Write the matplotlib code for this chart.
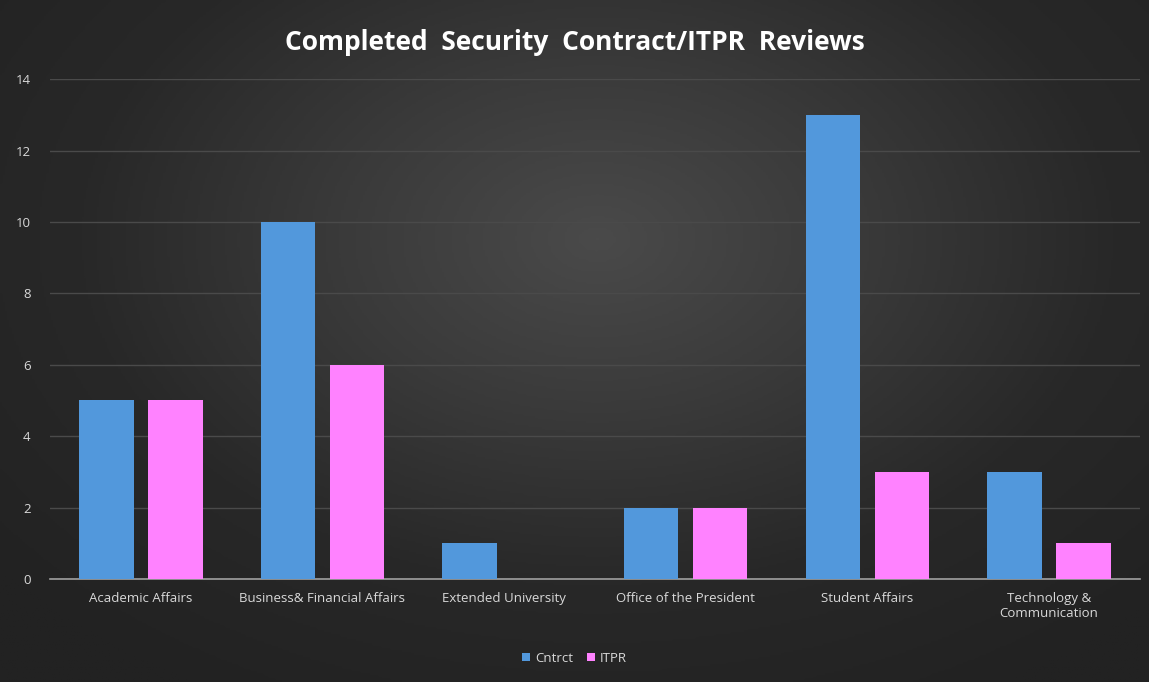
import numpy as np
import matplotlib.pyplot as plt
from matplotlib.colors import LinearSegmentedColormap

categories = ["Academic Affairs", "Business& Financial Affairs", "Extended University",
              "Office of the President", "Student Affairs", "Technology &\nCommunication"]
cntrct = [5, 10, 1, 2, 13, 3]
itpr = [5, 6, 0, 2, 3, 1]

plt.rcParams['font.family'] = ['Open Sans', 'DejaVu Sans']

fig = plt.figure(figsize=(11.49, 6.82), dpi=100)

# dark radial background
bg = fig.add_axes([0, 0, 1, 1])
yy, xx = np.mgrid[0:1:300j, 0:1:500j]
r = np.sqrt(((xx - 0.52) / 0.75) ** 2 + ((yy - 0.35) / 0.85) ** 2)
cmap = LinearSegmentedColormap.from_list('bgc', ['#4a4a4a', '#3a3a3a', '#282828', '#222222'])
bg.imshow(r, cmap=cmap, vmin=0, vmax=0.9, aspect='auto', extent=[0, 1, 1, 0])
bg.set_axis_off()

ax = fig.add_axes([0.0435, 0.151, 0.9485, 0.733])
ax.patch.set_alpha(0)

x = np.arange(len(categories))
w = 0.30
ax.bar(x - 0.19, cntrct, w, color='#5298dc', label='Cntrct', zorder=3)
ax.bar(x + 0.19, itpr, w, color='#ff82ff', label='ITPR', zorder=3)

ax.set_xlim(-0.5, len(categories) - 0.5)
ax.set_ylim(0, 14)
ax.set_yticks(range(0, 15, 2))
ax.set_xticks(x)
ax.set_xticklabels(categories)
ax.grid(axis='y', color='#4a4a4a', linewidth=1, zorder=0)
for s in ['top', 'right', 'left']:
    ax.spines[s].set_visible(False)
ax.spines['bottom'].set_color('#a0a0a0')
ax.spines['bottom'].set_linewidth(1.2)
ax.tick_params(length=0, colors='#d9d9d9', labelsize=9.5)
ax.tick_params(axis='y', pad=14)
ax.tick_params(axis='x', pad=9)

fig.text(0.5, 0.938, "Completed  Security  Contract/ITPR  Reviews", ha='center', va='center',
         color='white', fontsize=19, fontweight='bold')

fig.legend(loc='center', bbox_to_anchor=(0.5, 0.035), ncol=2, frameon=False,
           fontsize=9.5, labelcolor='#d9d9d9', handlelength=0.6, handleheight=0.6,
           handletextpad=0.4, columnspacing=1.0)

plt.savefig("out.png")
